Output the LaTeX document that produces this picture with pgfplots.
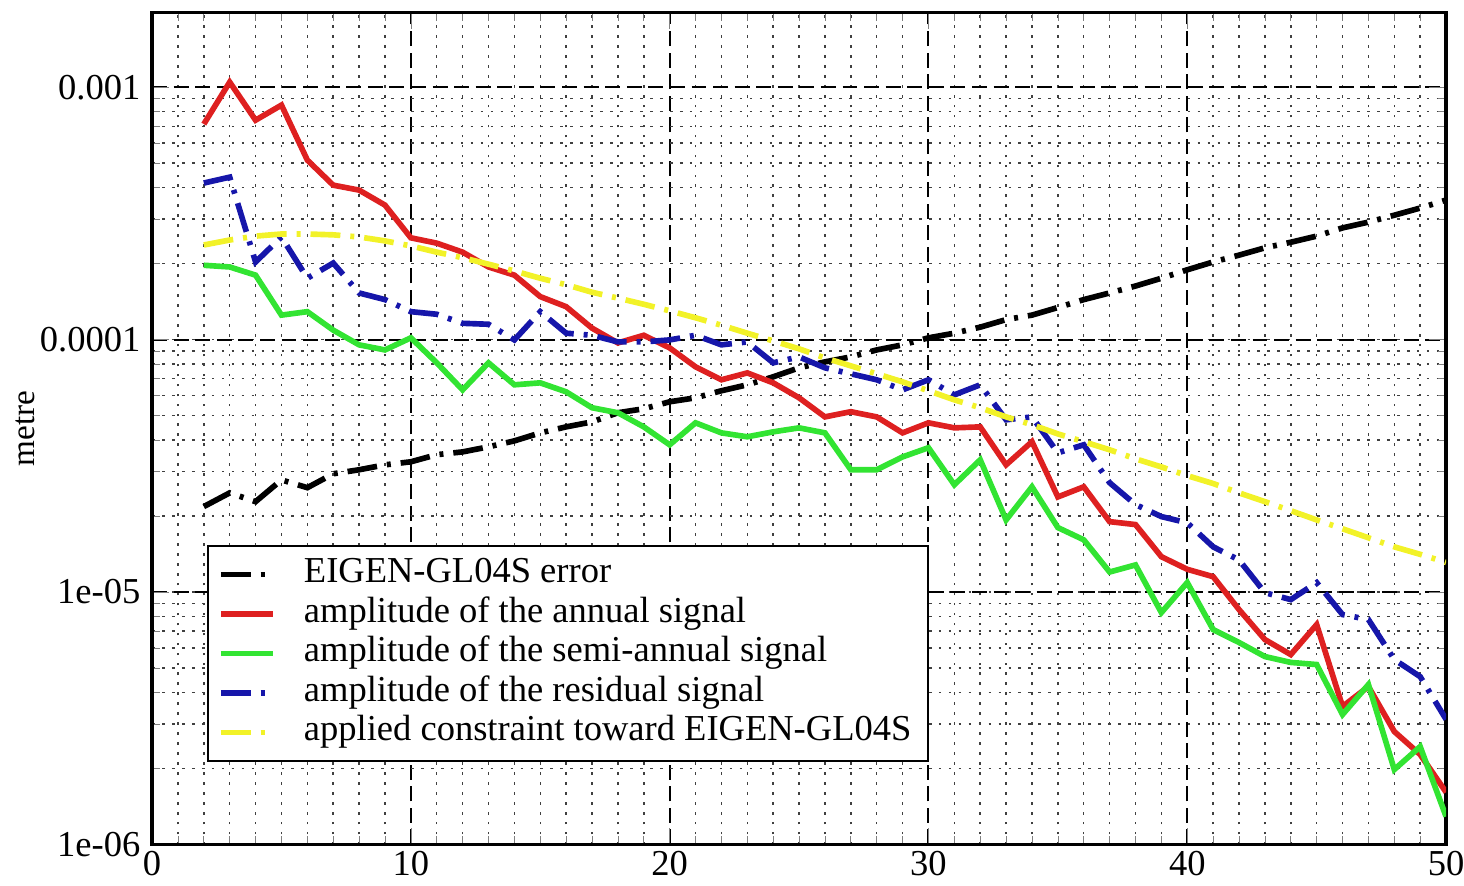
\documentclass[border=0pt]{standalone}
\usepackage{fontspec}
\setmainfont{Liberation Serif}
\usepackage{pgfplots}
\usepackage{pgfplotstable}
\pgfplotsset{compat=1.18}

\definecolor{cred}{RGB}{222,32,32}
\definecolor{cgreen}{RGB}{50,228,50}
\definecolor{cblue}{RGB}{22,22,170}
\definecolor{cyellow}{RGB}{242,242,40}

% degree n, EIGEN error, annual, semi-annual, residual, constraint
\pgfplotstableread{
n  err      ann      semi     res      con
2  2.18e-5  7.14e-4  1.97e-4  4.17e-4  2.37e-4
3  2.47e-5  1.047e-3 1.94e-4  4.40e-4  2.48e-4
4  2.28e-5  7.40e-4  1.80e-4  2.03e-4  2.57e-4
5  2.78e-5  8.49e-4  1.25e-4  2.55e-4  2.62e-4
6  2.59e-5  5.14e-4  1.29e-4  1.75e-4  2.62e-4
7  2.94e-5  4.09e-4  1.09e-4  2.01e-4  2.60e-4
8  3.05e-5  3.91e-4  9.53e-5  1.53e-4  2.55e-4
9  3.19e-5  3.41e-4  9.10e-5  1.44e-4  2.46e-4
10 3.28e-5  2.53e-4  1.016e-4 1.29e-4  2.35e-4
11 3.50e-5  2.41e-4  8.09e-5  1.26e-4  2.22e-4
12 3.59e-5  2.22e-4  6.32e-5  1.16e-4  2.11e-4
13 3.76e-5  1.94e-4  8.09e-5  1.15e-4  1.99e-4
14 3.97e-5  1.80e-4  6.62e-5  9.97e-5  1.87e-4
15 4.27e-5  1.48e-4  6.74e-5  1.29e-4  1.75e-4
16 4.51e-5  1.35e-4  6.21e-5  1.06e-4  1.65e-4
17 4.72e-5  1.11e-4  5.37e-5  1.04e-4  1.54e-4
18 5.13e-5  9.70e-5  5.13e-5  9.79e-5  1.46e-4
19 5.32e-5  1.04e-4  4.51e-5  9.79e-5  1.38e-4
20 5.67e-5  9.27e-5  3.83e-5  9.97e-5  1.30e-4
21 5.88e-5  7.80e-5  4.68e-5  1.04e-4  1.22e-4
22 6.27e-5  6.93e-5  4.27e-5  9.53e-5  1.14e-4
23 6.62e-5  7.38e-5  4.12e-5  9.79e-5  1.06e-4
24 7.12e-5  6.74e-5  4.31e-5  8.09e-5  9.88e-5
25 7.73e-5  5.88e-5  4.47e-5  8.54e-5  9.19e-5
26 8.16e-5  4.94e-5  4.27e-5  7.73e-5  8.46e-5
27 8.54e-5  5.18e-5  3.05e-5  7.32e-5  7.87e-5
28 9.10e-5  4.94e-5  3.05e-5  6.93e-5  7.32e-5
29 9.53e-5  4.27e-5  3.43e-5  6.32e-5  6.80e-5
30 1.016e-4 4.68e-5  3.73e-5  6.93e-5  6.27e-5
31 1.06e-4  4.47e-5  2.66e-5  6.04e-5  5.77e-5
32 1.12e-4  4.51e-5  3.34e-5  6.62e-5  5.37e-5
33 1.20e-4  3.19e-5  1.93e-5  4.81e-5  4.94e-5
34 1.25e-4  3.94e-5  2.61e-5  4.94e-5  4.60e-5
35 1.34e-4  2.38e-5  1.80e-5  3.56e-5  4.23e-5
36 1.44e-4  2.61e-5  1.61e-5  3.83e-5  3.94e-5
37 1.53e-4  1.90e-5  1.20e-5  2.71e-5  3.66e-5
38 1.63e-4  1.85e-5  1.28e-5  2.22e-5  3.37e-5
39 1.75e-4  1.38e-5  8.29e-6  1.99e-5  3.13e-5
40 1.89e-4  1.23e-5  1.09e-5  1.88e-5  2.89e-5
41 2.03e-4  1.15e-5  7.10e-6  1.51e-5  2.69e-5
42 2.16e-4  8.52e-6  6.31e-6  1.34e-5  2.47e-5
43 2.31e-4  6.48e-6  5.55e-6  9.94e-6  2.28e-5
44 2.43e-4  5.65e-6  5.26e-6  9.33e-6  2.10e-5
45 2.57e-4  7.43e-6  5.16e-6  1.09e-5  1.93e-5
46 2.77e-4  3.52e-6  3.27e-6  8.14e-6  1.78e-5
47 2.92e-4  4.22e-6  4.30e-6  7.78e-6  1.64e-5
48 3.11e-4  2.80e-6  1.98e-6  5.40e-6  1.51e-5
49 3.32e-4  2.27e-6  2.44e-6  4.62e-6  1.41e-5
50 3.57e-4  1.61e-6  1.29e-6  3.13e-6  1.31e-5
}\datatable

\begin{document}
\begin{tikzpicture}
\begin{axis}[
    scale only axis,
    width=13.7cm, height=8.81cm,
    ymode=log,
    xmin=0, xmax=50, ymin=1e-6, ymax=1.98e-3,
    xtick={0,10,20,30,40,50},
    xticklabels={0,10,20,30,40,50},
    minor x tick num=9,
    ytick={1e-6,1e-5,1e-4,1e-3},
    yticklabels={1e-06,1e-05,0.0001,0.001},
    ticklabel style={font=\fontsize{11}{12}\selectfont},
    xticklabel style={yshift=1.5pt},
    axis line style={line width=1pt},
    major tick length=5pt, minor tick length=2.5pt,
    grid=both,
    major grid style={black, line width=0.6pt, dash pattern=on 4.5pt off 2pt},
    minor grid style={black!75, line width=0.45pt, dash pattern=on 0.8pt off 2.2pt},
    ylabel={metre},
    ylabel style={at={(axis description cs:-0.098,0.5)}, anchor=center, font=\fontsize{10}{11}\selectfont},
    legend cell align=left,
    legend style={at={(0.0425,0.0996)}, anchor=south west, draw=black, line width=0.6pt,
        fill=white, font=\fontsize{11}{13}\selectfont, inner xsep=3pt, inner ysep=2.5pt,
        row sep=0pt, nodes={text height=7.6pt, text depth=2.5pt, inner ysep=0.9pt}},
    legend image code/.code={\draw[#1] (0cm,0cm) -- (0.55cm,0cm); \path (0.78cm,0cm);},
    every axis plot/.append style={line width=1.7pt},
]
\addplot[black, dash pattern=on 9pt off 3pt on 1.2pt off 3pt] table[x=n, y=err] {\datatable};
\addplot[cred] table[x=n, y=ann] {\datatable};
\addplot[cgreen] table[x=n, y=semi] {\datatable};
\addplot[cblue, dash pattern=on 9pt off 3pt on 1.2pt off 3pt] table[x=n, y=res] {\datatable};
\addplot[cyellow, dash pattern=on 9pt off 3pt on 1.2pt off 3pt] table[x=n, y=con] {\datatable};
\legend{EIGEN-GL04S error, amplitude of the annual signal, amplitude of the semi-annual signal,
    amplitude of the residual signal, applied constraint toward EIGEN-GL04S}
\end{axis}
\pgfresetboundingbox
\useasboundingbox ([xshift=-1.61cm,yshift=-0.44cm]current axis.south west) rectangle ([xshift=0.19cm,yshift=0.13cm]current axis.north east);
\end{tikzpicture}
\end{document}
